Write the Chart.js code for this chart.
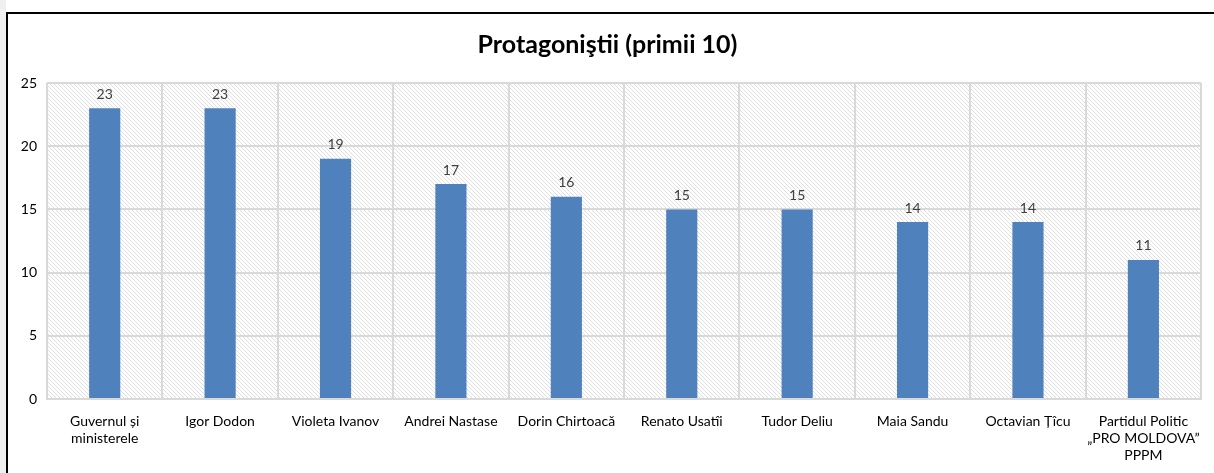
<!DOCTYPE html>
<html>
<head>
<meta charset="utf-8">
<script src="https://cdn.jsdelivr.net/npm/chart.js@4/dist/chart.umd.min.js"></script>
<style>
  html, body { margin: 0; padding: 0; background: #f0f0f0; width: 1214px; height: 473px; overflow: hidden; }
  #frame { position: absolute; left: 6px; top: 0; width: 1208px; height: 473px; background: #ffffff; }
  #box { position: absolute; left: 0; top: 12px; width: 1206px; height: 459px; border-left: 2px solid #000; border-top: 2px solid #000; background: #fff; }
  canvas { display: block; }
</style>
</head>
<body>
<div id="frame"><div id="box"><canvas id="c" width="1206" height="459"></canvas></div></div>
<script>
const categories = [
  ["Guvernul și", "ministerele"],
  "Igor Dodon",
  "Violeta Ivanov",
  "Andrei Nastase",
  "Dorin Chirtoacă",
  "Renato Usatîi",
  "Tudor Deliu",
  "Maia Sandu",
  "Octavian Țîcu",
  ["Partidul Politic", "„PRO MOLDOVA”", "PPPM"]
];
const values = [23, 23, 19, 17, 16, 15, 15, 14, 14, 11];
const yTicks = [0, 5, 10, 15, 20, 25];
const chartTitle = "Protagoniştii (primii 10)";

const FONT = "Lato, 'Open Sans', sans-serif";

function makePattern() {
  const t = document.createElement('canvas');
  t.width = 4; t.height = 4;
  const g = t.getContext('2d');
  g.fillStyle = '#ffffff';
  g.fillRect(0, 0, 4, 4);
  g.fillStyle = '#dedede';
  for (let i = 0; i < 4; i++) g.fillRect(i, i, 1, 1);
  return t;
}

const hatchPlugin = {
  id: 'hatch',
  beforeDraw(chart) {
    const { ctx, chartArea: a } = chart;
    ctx.save();
    ctx.fillStyle = ctx.createPattern(makePattern(), 'repeat');
    ctx.fillRect(a.left, a.top, a.right - a.left, a.bottom - a.top);
    ctx.restore();
  }
};

const valueLabels = {
  id: 'valueLabels',
  afterDatasetsDraw(chart) {
    const { ctx } = chart;
    const meta = chart.getDatasetMeta(0);
    ctx.save();
    ctx.font = "14px " + FONT;
    ctx.fillStyle = '#404040';
    ctx.textAlign = 'center';
    ctx.textBaseline = 'bottom';
    meta.data.forEach((bar, i) => {
      ctx.fillText(String(values[i]), bar.x, bar.y - 7);
    });
    ctx.restore();
  }
};

new Chart(document.getElementById('c'), {
  type: 'bar',
  data: {
    labels: categories,
    datasets: [{
      data: values,
      backgroundColor: '#4F81BD',
      borderWidth: 0,
      barPercentage: 0.27,
      categoryPercentage: 1.0
    }]
  },
  options: {
    responsive: false,
    animation: false,
    layout: { padding: { left: 0, right: 7, top: 0, bottom: 0 } },
    plugins: {
      legend: { display: false },
      tooltip: { enabled: false },
      title: {
        display: true,
        text: chartTitle,
        color: '#000000',
        font: { family: FONT, size: 25, weight: 'bold' },
        padding: { top: 16, bottom: 23 }
      }
    },
    scales: {
      x: {
        grid: { color: '#d9d9d9', lineWidth: 2, offset: true, drawTicks: false },
        border: { color: '#d9d9d9', width: 2 },
        ticks: {
          color: '#000000',
          font: { family: FONT, size: 14 },
          maxRotation: 0,
          autoSkip: false,
          padding: 14
        },
        afterFit(scale) { scale.height = 74; }
      },
      y: {
        min: 0, max: 25,
        afterBuildTicks(scale) { scale.ticks = yTicks.map(v => ({ value: v })); },
        grid: { color: '#d9d9d9', lineWidth: 2, drawTicks: false },
        border: { display: false },
        ticks: {
          color: '#000000',
          font: { family: FONT, size: 14 },
          padding: 10
        },
        afterFit(scale) { scale.width = 39; }
      }
    }
  },
  plugins: [hatchPlugin, valueLabels]
});
</script>
</body>
</html>
